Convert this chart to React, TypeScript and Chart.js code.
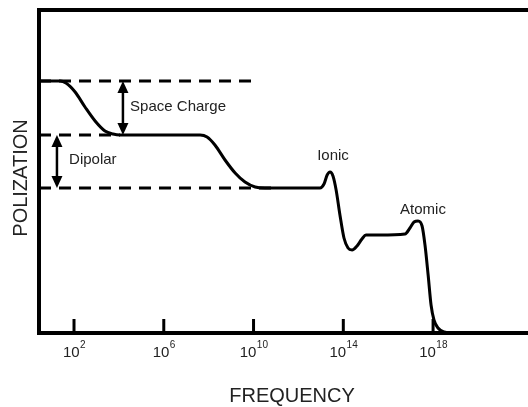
import React, { useEffect, useRef } from "react";
import Chart from "chart.js/auto";

// x values are log10(frequency), y values are relative polarization
const curveX = [0.44, 1.38, 1.64, 2.05, 2.49, 2.94, 3.38, 3.74, 4.05, 7.62, 7.93, 8.28, 8.73, 9.18, 9.62, 10.07, 10.51, 12.96, 13.14, 13.28, 13.41, 13.54, 13.68, 13.85, 14.03, 14.21, 14.39, 14.61, 14.83, 15.01, 15.64, 16.75, 16.97, 17.15, 17.33, 17.51, 17.64, 17.78, 17.91, 18.04, 18.22, 18.49, 18.85];
const curveY = [252, 252, 250, 241, 226, 212, 202, 199, 198, 198, 196, 188, 173, 160, 151, 146, 145, 145, 149, 158, 161, 157, 143, 118, 95, 85, 83, 87, 94, 98, 98, 99, 105, 111, 112, 107, 88, 58, 28, 13, 5, 1, 0];

const levels = [252, 198, 145];
const levelEnds = [10.16, 4.05, 10.96];

const tickExponents = [2, 6, 10, 14, 18];
const xMin = 0.44;
const xMax = 22.23;
const yMax = 323;

const arrows = [
  { x: 4.18, from: 252, to: 198, label: "Space Charge", lx: 4.5, ly: 226 },
  { x: 1.24, from: 198, to: 145, label: "Dipolar", lx: 1.78, ly: 173 },
];
const peakLabels = [
  { text: "Ionic", x: 13.54, y: 177 },
  { text: "Atomic", x: 17.55, y: 123 },
];

const FONT = "'Liberation Sans', Arial, sans-serif";

export default function App() {
  const ref = useRef<HTMLCanvasElement | null>(null);
  useEffect(() => {
    document.body.style.margin = "0";
    const canvas = ref.current!;
    const decor = {
      id: "decor",
      afterDraw(chart: any) {
        const ctx = chart.ctx as CanvasRenderingContext2D;
        const xs = chart.scales.x;
        const ys = chart.scales.y;
        const area = chart.chartArea;
        ctx.save();
        ctx.strokeStyle = "#000";
        ctx.fillStyle = "#000";
        // axes
        ctx.lineWidth = 4;
        ctx.beginPath();
        ctx.moveTo(area.left, area.top);
        ctx.lineTo(528, area.top);
        ctx.moveTo(area.left, area.top - 2);
        ctx.lineTo(area.left, area.bottom + 2);
        ctx.moveTo(area.left - 2, area.bottom);
        ctx.lineTo(528, area.bottom);
        ctx.stroke();
        // ticks
        ctx.lineWidth = 3;
        tickExponents.forEach((e) => {
          const px = xs.getPixelForValue(e);
          ctx.strokeStyle = "#000";
          ctx.beginPath();
          ctx.moveTo(px, area.bottom);
          ctx.lineTo(px, area.bottom - 14);
          ctx.stroke();
          ctx.fillStyle = "#222";
          ctx.font = `15px ${FONT}`;
          const base = "10";
          const sup = String(e);
          const bw = ctx.measureText(base).width;
          ctx.font = `10px ${FONT}`;
          const sw = ctx.measureText(sup).width;
          const start = px - (bw + sw) / 2;
          ctx.textAlign = "left";
          ctx.textBaseline = "alphabetic";
          ctx.font = `15px ${FONT}`;
          ctx.fillText(base, start, area.bottom + 24);
          ctx.font = `10px ${FONT}`;
          ctx.fillText(sup, start + bw + 0.5, area.bottom + 15);
        });
        // arrows
        ctx.fillStyle = "#000";
        arrows.forEach((a) => {
          const px = xs.getPixelForValue(a.x);
          const y1 = ys.getPixelForValue(a.from);
          const y2 = ys.getPixelForValue(a.to);
          ctx.lineWidth = 2.5;
          ctx.beginPath();
          ctx.moveTo(px, y1 + 8);
          ctx.lineTo(px, y2 - 8);
          ctx.stroke();
          ctx.beginPath();
          ctx.moveTo(px, y1);
          ctx.lineTo(px - 5.5, y1 + 12);
          ctx.lineTo(px + 5.5, y1 + 12);
          ctx.closePath();
          ctx.fill();
          ctx.beginPath();
          ctx.moveTo(px, y2);
          ctx.lineTo(px - 5.5, y2 - 12);
          ctx.lineTo(px + 5.5, y2 - 12);
          ctx.closePath();
          ctx.fill();
          ctx.fillStyle = "#222";
          ctx.font = `15px ${FONT}`;
          ctx.textAlign = "left";
          ctx.textBaseline = "middle";
          ctx.fillText(a.label, xs.getPixelForValue(a.lx), ys.getPixelForValue(a.ly));
          ctx.fillStyle = "#000";
        });
        ctx.fillStyle = "#222";
        ctx.font = `15px ${FONT}`;
        ctx.textAlign = "center";
        ctx.textBaseline = "middle";
        peakLabels.forEach((p) => {
          ctx.fillText(p.text, xs.getPixelForValue(p.x), ys.getPixelForValue(p.y));
        });
        // titles
        ctx.font = `20px ${FONT}`;
        ctx.fillText("FREQUENCY", 292, 396);
        ctx.save();
        ctx.translate(21, 178);
        ctx.rotate(-Math.PI / 2);
        ctx.font = `20px ${FONT}`;
        ctx.fillText("POLIZATION", 0, 0);
        ctx.restore();
        ctx.restore();
      },
    };
    const datasets: any[] = levels.map((lv, i) => ({
      data: [
        { x: xMin, y: lv },
        { x: levelEnds[i], y: lv },
      ],
      borderColor: "#000",
      borderWidth: 3,
      borderDash: [12, 8],
      pointRadius: 0,
      tension: 0,
    }));
    datasets.push({
      data: curveX.map((x, i) => ({ x, y: curveY[i] })),
      borderColor: "#000",
      borderWidth: 3,
      pointRadius: 0,
      cubicInterpolationMode: "monotone",
    });
    const chart = new Chart(canvas, {
      type: "line",
      data: { datasets },
      options: {
        animation: false,
        responsive: false,
        layout: { padding: { left: 39, top: 10, right: 0, bottom: 74 } },
        plugins: { legend: { display: false }, tooltip: { enabled: false } },
        scales: {
          x: { type: "linear", min: xMin, max: xMax, display: false },
          y: { type: "linear", min: 0, max: yMax, display: false },
        },
      },
      plugins: [decor],
    });
    return () => chart.destroy();
  }, []);
  return (
    <div style={{ width: 528, height: 407, background: "#fff" }}>
      <canvas ref={ref} width={528} height={407} />
    </div>
  );
}
